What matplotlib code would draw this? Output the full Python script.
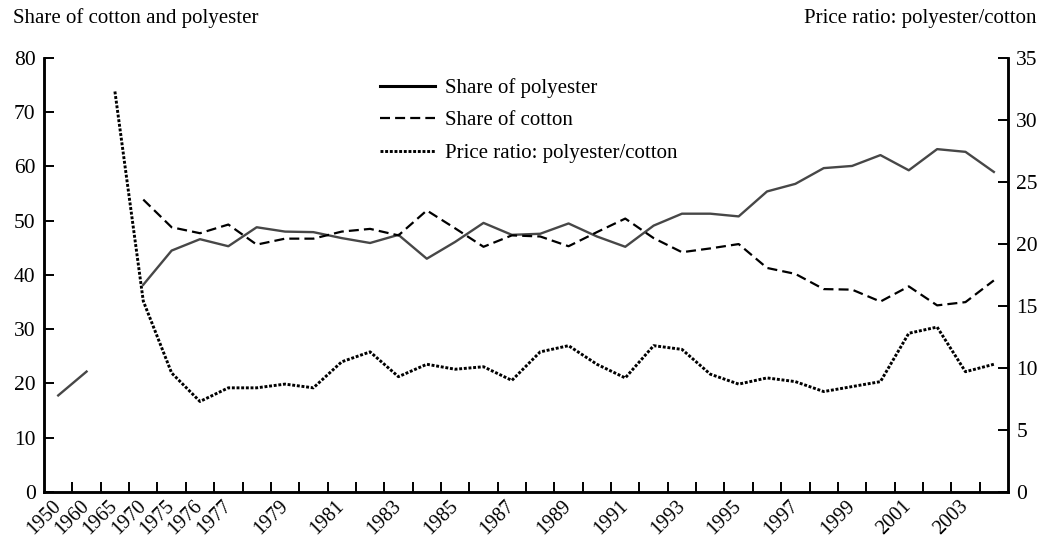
import numpy as np
import matplotlib
matplotlib.use("Agg")
import matplotlib.pyplot as plt

years = ["1950", "1960", "1965", "1970"] + [str(y) for y in range(1975, 2005)]
shown_labels = ["1950", "1960", "1965", "1970", "1975", "1976", "1977",
                "1979", "1981", "1983", "1985", "1987", "1989", "1991",
                "1993", "1995", "1997", "1999", "2001", "2003"]

nan = np.nan
polyester = [17.8, 22.2, nan, 38.2,
             44.5, 46.6, 45.3, 48.8, 48.0, 47.9, 46.8, 45.9, 47.4, 43.0,
             46.1, 49.6, 47.4, 47.6, 49.5, 47.1, 45.2, 49.1, 51.3, 51.3,
             50.8, 55.4, 56.8, 59.7, 60.1, 62.1, 59.3, 63.2, 62.7, 59.0]
cotton = [nan, nan, nan, 53.9,
          48.8, 47.7, 49.3, 45.6, 46.7, 46.7, 48.0, 48.5, 47.3, 51.9,
          48.6, 45.2, 47.3, 47.1, 45.3, 47.9, 50.4, 46.8, 44.2, 44.9,
          45.7, 41.3, 40.2, 37.4, 37.3, 35.1, 37.9, 34.4, 35.0, 39.0]
price_ratio = [nan, nan, 32.3, 15.4,
               9.6, 7.3, 8.4, 8.4, 8.7, 8.4, 10.5, 11.3, 9.3, 10.3,
               9.9, 10.1, 9.0, 11.3, 11.8, 10.3, 9.2, 11.8, 11.5, 9.5,
               8.7, 9.2, 8.9, 8.1, 8.5, 8.9, 12.8, 13.3, 9.7, 10.3]

plt.rcParams['font.family'] = ['Liberation Serif', 'DejaVu Serif']
FS = 15

fig = plt.figure(figsize=(10.51, 5.44), dpi=100)
ax = fig.add_axes([0.0419, 0.0956, 0.9172, 0.7978])
ax2 = ax.twinx()

x = np.arange(len(years))
l1, = ax.plot(x, polyester, color='#474747', lw=1.7, label='Share of polyester')
l2, = ax.plot(x, cotton, color='black', lw=1.6, ls=(0, (4.5, 2.3)), label='Share of cotton')
l3, = ax2.plot(x, price_ratio, color='black', lw=2.1, ls=(0, (1.0, 0.6)),
               label='Price ratio: polyester/cotton')

ax.set_xlim(-0.5, len(years) - 0.5)
ax.set_ylim(0, 80)
ax2.set_ylim(0, 35)
ax.set_yticks(range(0, 81, 10))
ax2.set_yticks(range(0, 36, 5))

pos = [years.index(s) for s in shown_labels]
ax.set_xticks(pos)
ax.set_xticklabels(shown_labels, rotation=45, ha='right', va='center',
                   rotation_mode='anchor', fontsize=FS - 0.5)
ax.set_xticks(np.arange(0.5, len(years) - 1, 1.0), minor=True)
ax.tick_params(axis='x', which='major', length=0, pad=8)
ax.tick_params(axis='x', which='minor', direction='in', length=7, width=1.4)
ax.tick_params(axis='y', direction='in', length=7, width=1.4, labelsize=FS + 0.5, pad=6)
ax2.tick_params(axis='y', direction='in', length=7, width=1.4, labelsize=FS + 0.5, pad=6)

for a in (ax, ax2):
    a.spines['top'].set_visible(False)
    for s in ('left', 'right', 'bottom'):
        a.spines[s].set_linewidth(1.8)

leg = ax.legend(handles=[l1, l2, l3], loc='upper left',
                bbox_to_anchor=(380 / 1051, 1 - 78 / 544),
                bbox_transform=fig.transFigure, borderaxespad=0, borderpad=0,
                frameon=False, fontsize=FS, handlelength=2.65, labelspacing=0.62,
                handletextpad=0.45)
leg.get_lines()[0].set_color('black')
leg.get_lines()[0].set_linewidth(2.2)

fig.text(13 / 1051, 1 - 18 / 544, 'Share of cotton and polyester', fontsize=FS,
         va='center', ha='left')
fig.text(1037 / 1051, 1 - 18 / 544, 'Price ratio: polyester/cotton', fontsize=FS,
         va='center', ha='right')

fig.savefig('out.png', dpi=100)
